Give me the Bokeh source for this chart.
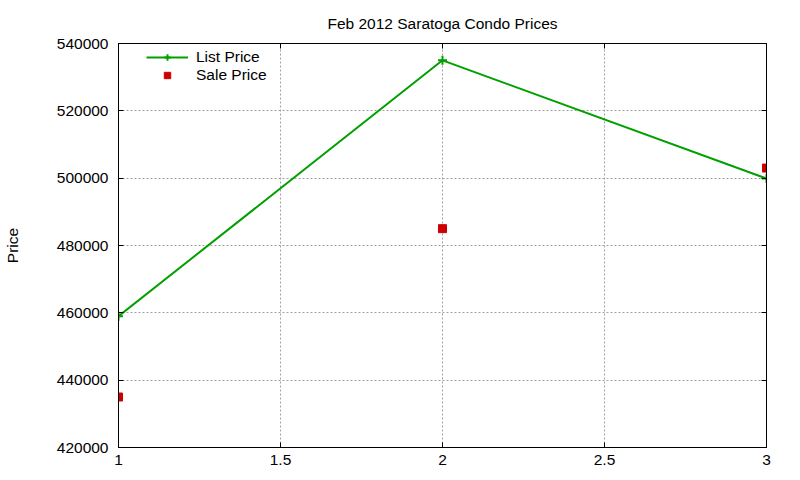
from bokeh.plotting import figure
from bokeh.models import (Range1d, FixedTicker, LinearAxis, Legend, LegendItem,
                          CustomJSTickFormatter)
from bokeh.embed import file_html
from bokeh.resources import INLINE

x_vals = [1, 2, 3]
list_price = [459000, 535000, 499900]
sale_price = [435000, 485000, 503000]
x_ticks = [1, 1.5, 2, 2.5, 3]
y_ticks = [420000, 440000, 460000, 480000, 500000, 520000, 540000]

FONT = "Liberation Sans"
FS = "15.5px"

p = figure(width=784, height=467, output_backend="svg", toolbar_location=None,
           x_range=Range1d(1, 3), y_range=Range1d(420000, 540000),
           min_border_left=110, min_border_right=18, min_border_bottom=0, min_border_top=0)
p.title.text = "Feb 2012 Saratoga Condo Prices"
p.title.align = "center"
p.title.text_font = FONT
p.title.text_font_size = FS
p.title.text_font_style = "normal"
p.title.text_color = "black"
p.title.standoff = 24

p.outline_line_color = "black"
p.outline_line_width = 1
p.background_fill_color = "white"
p.border_fill_color = "white"

for ax in p.xaxis + p.yaxis:
    ax.major_label_text_font = FONT
    ax.major_label_text_font_size = FS
    ax.major_label_text_color = "black"
    ax.axis_line_color = "black"
    ax.major_tick_in = 5
    ax.major_tick_out = 0
    ax.minor_tick_line_color = None
    ax.major_tick_line_color = "black"

p.xaxis.ticker = FixedTicker(ticks=x_ticks)
p.yaxis.ticker = FixedTicker(ticks=y_ticks)
p.xaxis.major_label_standoff = 7
p.yaxis.major_label_standoff = 10
p.xaxis.formatter = CustomJSTickFormatter(code="return String(tick);")
p.yaxis.formatter = CustomJSTickFormatter(code="return String(tick);")
p.yaxis.axis_label = "Price"
p.yaxis.axis_label_text_font = FONT
p.yaxis.axis_label_text_font_size = FS
p.yaxis.axis_label_text_font_style = "normal"
p.yaxis.axis_label_text_color = "black"
p.yaxis.axis_label_standoff = 33

# mirrored ticks
blank = CustomJSTickFormatter(code="return '';")
right = LinearAxis(ticker=FixedTicker(ticks=y_ticks), formatter=blank,
                   major_tick_in=5, major_tick_out=0, minor_tick_line_color=None,
                   axis_line_color="black", major_label_standoff=0)
top = LinearAxis(ticker=FixedTicker(ticks=x_ticks), formatter=blank,
                 major_tick_in=5, major_tick_out=0, minor_tick_line_color=None,
                 axis_line_color="black", major_label_standoff=0)
p.add_layout(right, "right")
p.add_layout(top, "above")

p.grid.grid_line_color = "#a0a0a0"
p.grid.grid_line_dash = "2 2"
p.grid.grid_line_width = 1
p.xgrid.ticker = FixedTicker(ticks=x_ticks)
p.ygrid.ticker = FixedTicker(ticks=y_ticks)

green = "#00a000"
red = "#cc0000"
ln = p.line(x_vals, list_price, line_color=green, line_width=2)
mk = p.scatter(x_vals, list_price, marker="cross", size=9, line_color=green, line_width=2)
sq = p.scatter(x_vals, sale_price, marker="square", size=8, fill_color=red, line_color=red)

legend = Legend(items=[LegendItem(label="List Price", renderers=[ln, mk]),
                       LegendItem(label="Sale Price", renderers=[sq])],
                border_line_color=None, background_fill_alpha=0,
                label_text_font=FONT, label_text_font_size=FS, label_text_color="black",
                glyph_width=42, glyph_height=16, label_height=16, spacing=0, padding=0,
                margin=0, label_standoff=8)
legend.location = (28, 405 - 42)
p.add_layout(legend)

open("out.html", "w").write(file_html(p, INLINE))
